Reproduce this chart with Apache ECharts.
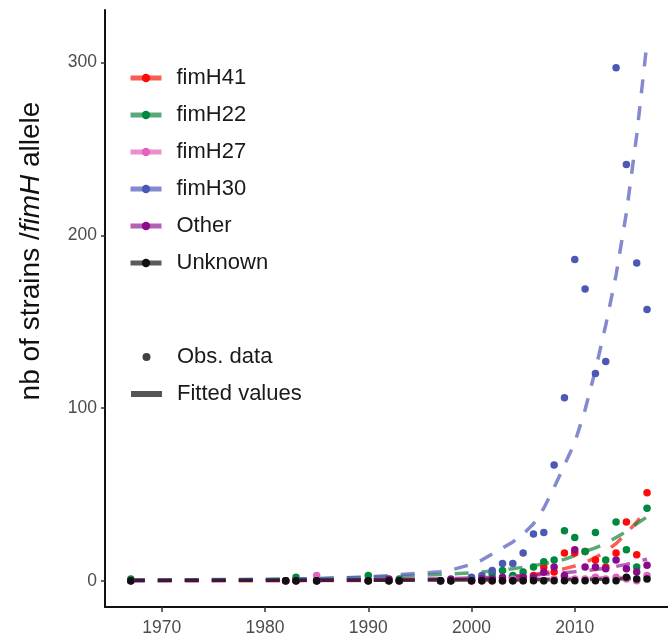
<!DOCTYPE html>
<html><head><meta charset="utf-8">
<script src="https://cdn.jsdelivr.net/npm/echarts@6/dist/echarts.min.js"></script>
<style>html,body{margin:0;padding:0;background:#fff}#c{width:668px;height:637px}</style>
</head><body><div id="c"></div>
<script>
// ---- data ----
const years      = [1967,1982,1983,1985,1990,1992,1993,1997,1998,2000,2001,2002,2003,2004,2005,2006,2007,2008,2009,2010,2011,2012,2013,2014,2015,2016,2017];
const obsH41     = [0,0,0,0,0,0,0,0,0,0,0,0,0,1,2,3,8,5,16,16,17,12,8,16,34,15,51];
const obsH22     = [1,0,2,0,3,0,1,0,0,1,1,4,6,3,5,8,11,12,29,25,17,28,12,34,18,8,42];
const obsH27     = [0,0,0,3,0,0,0,0,0,0,0,0,0,1,0,1,0,1,2,1,1,2,1,2,1,0,3];
const obsH30     = [0,0,0,0,0,0,0,0,0,2,3,6,10,10,16,27,28,67,106,186,169,120,127,297,241,184,157];
const obsOther   = [0,0,0,0,0,1,0,0,1,0,1,1,2,0,2,2,5,8,3,18,8,8,7,12,7,5,9];
const obsUnknown = [0,0,0,0,0,0,0,0,0,0,0,0,0,0,0,0,0,0,0,0,0,0,0,0,2,1,1];

const fitH41     = [0,0.05,0.05,0.1,0.2,0.3,0.4,0.6,0.7,0.9,1.1,1.4,1.8,2.3,2.9,3.6,4.5,5.5,7,8.5,10.5,13.5,17,21.5,27.5,34,42];
const fitH22     = [0.3,1.0,1.1,1.3,2.0,2.4,2.6,3.6,3.9,4.6,5.1,5.7,6.3,7.0,7.8,8.7,9.8,11,12.4,14.5,17,19,21.5,25,28.5,33,37];
const fitH27     = [0.2,0.4,0.4,0.5,0.6,0.6,0.6,0.7,0.7,0.8,0.8,0.9,0.9,1.0,1.0,1.1,1.2,1.2,1.3,1.4,1.5,1.6,1.7,1.8,1.9,2.0,2.1];
const fitH30     = [0.1,0.7,0.8,1.1,2.2,3.0,3.5,5.2,6.2,9.5,12,15.5,19,22.5,27,33,42,54,67,80,99,122,148,177,213,258,312];
const fitOther   = [0.1,0.3,0.3,0.4,0.6,0.7,0.8,1.2,1.3,1.6,1.8,2.0,2.3,2.6,2.9,3.3,3.7,4.2,4.7,5.2,5.8,6.5,7.3,8.3,9.5,11,12.5];
const fitUnknown = [0.3,0.3,0.3,0.3,0.3,0.3,0.3,0.4,0.4,0.4,0.4,0.4,0.5,0.5,0.5,0.5,0.6,0.6,0.6,0.7,0.7,0.8,0.9,1.0,1.1,1.2,1.3];

const alleles = ['fimH41','fimH22','fimH27','fimH30','Other','Unknown'];
const xTicks = [1970,1980,1990,2000,2010];
const yTicks = [0,100,200,300];
const legendExtra = ['Obs. data','Fitted values'];

// ---- styling ----
const pointColors = ['#ff0a0a','#00883f','#e064bb','#4d58b4','#8a0a8a','#111111'];
const lineColors  = ['rgba(245,40,25,0.75)','rgba(10,130,55,0.68)','rgba(228,100,190,0.72)','rgba(85,92,190,0.72)','rgba(140,10,140,0.65)','rgba(20,20,20,0.7)'];
const obsAll = [obsH41,obsH22,obsH27,obsH30,obsOther,obsUnknown];
const fitAll = [fitH41,fitH22,fitH27,fitH30,fitOther,fitUnknown];

const FONT = 'Liberation Sans, Arial, Helvetica, sans-serif';
const series = [];
alleles.forEach((name,i)=>{
  series.push({
    name, type:'line', symbol:'circle', showSymbol:false, silent:true,
    data: years.map((y,k)=>[y, fitAll[i][k]]),
    lineStyle:{color:lineColors[i], width:3.5, type:[14,13], cap:'butt'},
    itemStyle:{color:pointColors[i]}, z:2, animation:false
  });
});
alleles.forEach((name,i)=>{
  series.push({
    name, type:'scatter', symbol:'circle', symbolSize:7.5, silent:true,
    data: years.map((y,k)=>[y, obsAll[i][k]]),
    itemStyle:{color:pointColors[i], opacity:1}, z:3, animation:false
  });
});
series.push({name:'Obs. data', type:'scatter', symbol:'circle', data:[], itemStyle:{color:'#111'}});
series.push({name:'Fitted values', type:'line', symbol:'circle', data:[], lineStyle:{color:'#555', width:6}, itemStyle:{color:'#555'}});

const chart = echarts.init(document.getElementById('c'), null, {renderer:'canvas'});
chart.setOption({
  backgroundColor:'#fff',
  animation:false,
  grid:{left:105, right:0, top:10, bottom:30},
  xAxis:{
    type:'value', min:1964.5, max:2019.03,
    axisLine:{show:true, onZero:false, lineStyle:{color:'#111', width:2}},
    splitLine:{show:false},
    axisTick:{show:true, customValues:xTicks, length:5, lineStyle:{color:'#333', width:1.5}},
    axisLabel:{customValues:xTicks, margin:12, fontSize:17.5, color:'#4d4d4d', fontFamily:FONT,
      formatter:(v)=>String(v)}
  },
  yAxis:{
    type:'value', min:-15.2, max:330.5,
    axisLine:{show:true, onZero:false, lineStyle:{color:'#111', width:2}},
    splitLine:{show:false},
    axisTick:{show:true, customValues:yTicks, length:4, lineStyle:{color:'#333', width:1.5}},
    axisLabel:{customValues:yTicks, margin:8, fontSize:17.5, color:'#4d4d4d', fontFamily:FONT}
  },
  legend:[{
    orient:'vertical', left:128, top:67, padding:0, itemWidth:31, itemHeight:10.5, itemGap:15,
    data:alleles, selectedMode:false,
    textStyle:{fontSize:22, lineHeight:22, color:'#1a1a1a', fontFamily:FONT, padding:[0,0,0,10]},
    lineStyle:{type:'solid', width:5}
  },{
    orient:'vertical', left:128, top:346, padding:0, itemWidth:31, itemHeight:8, itemGap:15,
    data:[{name:legendExtra[0]},{name:legendExtra[1], itemStyle:{opacity:0}}], selectedMode:false,
    textStyle:{fontSize:22, lineHeight:22, color:'#1a1a1a', fontFamily:FONT, padding:[0,0,0,10]},
    lineStyle:{type:'solid', width:6}
  }],
  graphic:[{
    type:'text', x:31, y:251, rotation:Math.PI/2,
    style:{
      text:'{n|nb of strains /}{i|fimH}{n| allele}',
      align:'center', verticalAlign:'middle',
      rich:{
        n:{fontSize:28, fontFamily:FONT, fill:'#111'},
        i:{fontSize:28, fontFamily:FONT, fontStyle:'italic', fill:'#111'}
      }
    }
  }],
  series
});
</script>
</body></html>
